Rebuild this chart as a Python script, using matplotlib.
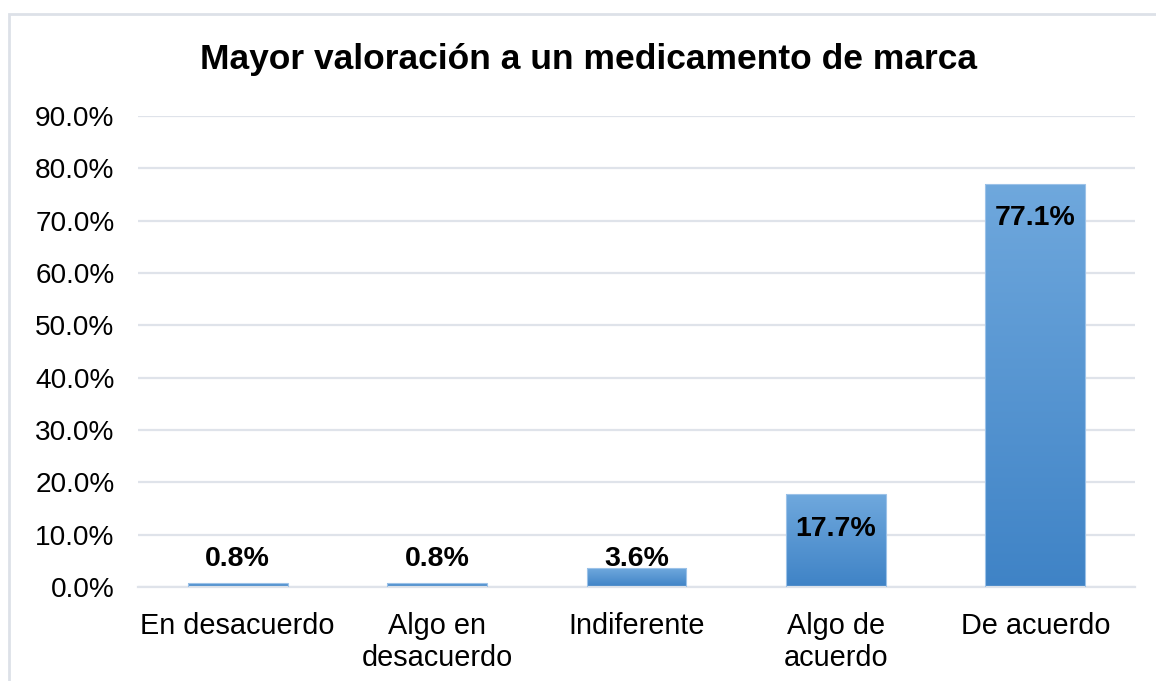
import numpy as np
import matplotlib
matplotlib.use("Agg")
import matplotlib.pyplot as plt
import matplotlib.ticker as ticker
from matplotlib.colors import LinearSegmentedColormap
from matplotlib.patches import Rectangle

plt.rcParams['font.family'] = ['Liberation Sans', 'DejaVu Sans']

# datos
categorias = ['En desacuerdo', 'Algo en\ndesacuerdo', 'Indiferente', 'Algo de\nacuerdo', 'De acuerdo']
porcentajes = [0.8, 0.8, 3.6, 17.7, 77.1]
titulo = 'Mayor valoración a un medicamento de marca'

fig = plt.figure(figsize=(11.56, 6.81), dpi=100)
ax = fig.add_axes([138/1156, 1 - 587/681, (1135 - 138)/1156, (587 - 116)/681])

grad = LinearSegmentedColormap.from_list('azul', ['#3f83c6', '#6fa8dd'])
x = np.arange(len(categorias))
barras = ax.bar(x, porcentajes, width=0.5, color='none', edgecolor='#9cc2e8', linewidth=0.8, zorder=3)
for b in barras:
    x0, y0 = b.get_x(), b.get_y()
    w, h = b.get_width(), b.get_height()
    im = ax.imshow(np.linspace(0, 1, 256).reshape(-1, 1), cmap=grad, origin='lower',
                   extent=[x0, x0 + w, y0, y0 + h], aspect='auto', zorder=2)
    im.set_clip_path(b)

# etiquetas de datos (dentro del extremo, o arriba si la barra es pequeña)
for xi, v in zip(x, porcentajes):
    ax.text(xi, max(v - 6.6, 5.3), f'{v:.1f}%', ha='center', va='center',
            fontsize=20.5, fontweight='bold', color='black', zorder=4)

ax.set_xlim(-0.5, len(categorias) - 0.5)
ax.set_ylim(0, 90)
ax.yaxis.set_major_locator(ticker.MultipleLocator(10))
ax.yaxis.set_major_formatter(ticker.FuncFormatter(lambda v, p: f'{v:.1f}%'))
ax.set_xticks(x)
ax.set_xticklabels(categorias, fontsize=20.8, linespacing=1.2)
ax.tick_params(axis='y', labelsize=20.2, length=0, pad=17)
ax.tick_params(axis='x', length=0, pad=18)
ax.grid(axis='y', color='#dfe3ea', linewidth=1.6, zorder=0)
ax.set_axisbelow(True)
for s in ['top', 'right', 'left']:
    ax.spines[s].set_visible(False)
ax.spines['bottom'].set_color('#dfe3ea')
ax.spines['bottom'].set_linewidth(1.6)

fig.text(588/1156, 1 - 59/681, titulo, ha='center', va='center', fontsize=25.5, fontweight='bold')

# borde del gráfico
fig.patches.append(Rectangle((9/1156, -0.05), 1.1, 1 - 14/681 + 0.05, transform=fig.transFigure,
                             fill=False, edgecolor='#dde1e8', linewidth=2))

fig.savefig('out.png', dpi=100)
